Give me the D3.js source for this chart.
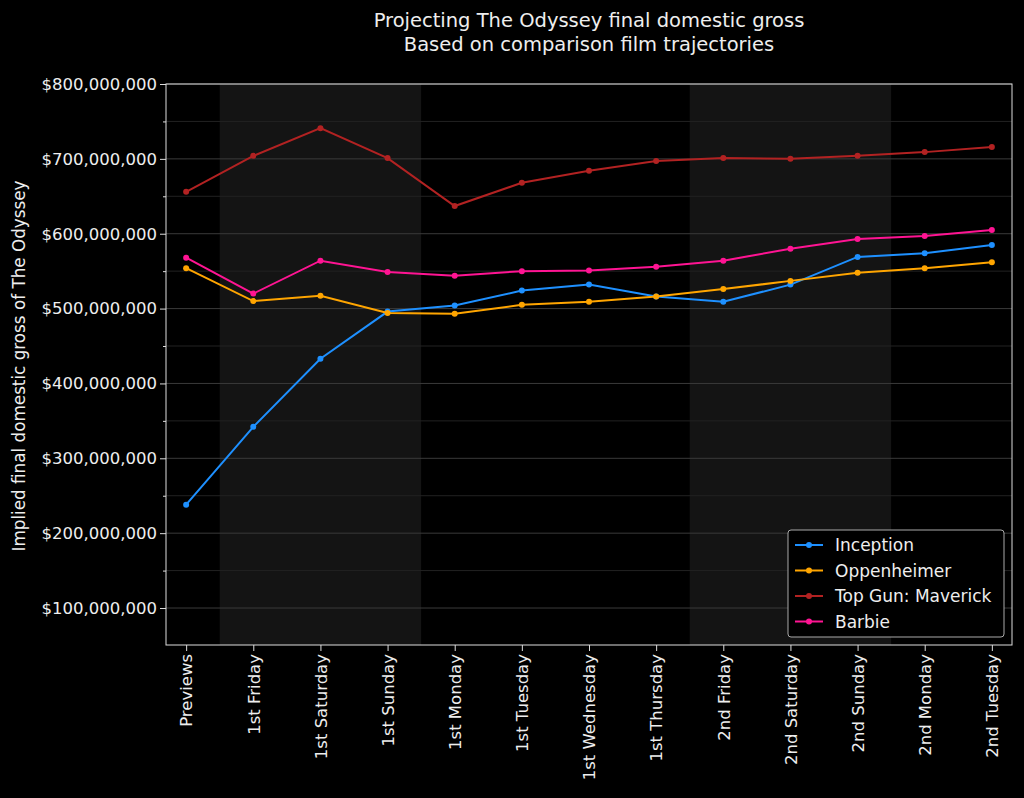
<!DOCTYPE html><html><head><meta charset="utf-8"><script src="https://cdn.jsdelivr.net/npm/d3@7"></script>
<style>body{margin:0;background:#000}svg{font-family:"DejaVu Sans",sans-serif}</style></head><body><svg id="c" width="1024" height="798"></svg><script>
const days=["Previews","1st Friday","1st Saturday","1st Sunday","1st Monday","1st Tuesday","1st Wednesday","1st Thursday","2nd Friday","2nd Saturday","2nd Sunday","2nd Monday","2nd Tuesday"];
const inception=[238,342,433,496,504,524,532,516,509,532,569,574,585];
const oppenheimer=[554,510,517,494,493,505,509,516,526,537,548,554,562];
const topgun=[656,704,741,701,637,668,684,697,701,700,704,709,716];
const barbie=[568,520,564,549,544,550,551,556,564,580,593,597,605];
const yTicks=[100,200,300,400,500,600,700,800];
const series=[["Inception",inception,"#1e90ff"],["Oppenheimer",oppenheimer,"#ffa500"],["Top Gun: Maverick",topgun,"#b22222"],["Barbie",barbie,"#ff1493"]];
const svg=d3.select("#c"),L=166,R=1012,T=84,B=645;
const x=d3.scalePoint().domain(days).range([L,R]).padding(0.3);
const step=x.step();
const y=d3.scaleLinear().domain([50.6,800]).range([B,T]);
svg.append("rect").attr("x",L).attr("y",T).attr("width",R-L).attr("height",B-T).attr("fill","#000");
[[1,3],[8,10]].forEach(([a,b])=>svg.append("rect").attr("x",x(days[a])-step/2).attr("y",T).attr("width",x(days[b])-x(days[a])+step).attr("height",B-T).attr("fill","#141414"));
d3.range(100,801,50).forEach(v=>svg.append("line").attr("x1",L).attr("x2",R).attr("y1",y(v)).attr("y2",y(v)).attr("stroke",v%100?"#222":"#3a3a3a").attr("stroke-width",1));
svg.append("g").attr("transform",`translate(${L},0)`).call(d3.axisLeft(y).tickValues(yTicks).tickFormat(d=>"$"+d3.format(",")(d*1e6)).tickSize(6));
svg.append("g").attr("transform",`translate(${L},0)`).call(d3.axisLeft(y).tickValues(d3.range(150,800,100)).tickFormat("").tickSize(3));
const xa=svg.append("g").attr("transform",`translate(0,${B})`).call(d3.axisBottom(x).tickSize(6));
xa.selectAll("text").attr("transform","rotate(-90)").attr("text-anchor","end").attr("y",0).attr("x",-9).attr("dy","0.35em");
svg.selectAll(".domain").remove();
svg.selectAll(".tick line").attr("stroke","#ddd");
svg.selectAll(".tick text").attr("fill","#eee").attr("font-size",16.5).attr("font-family","DejaVu Sans");
svg.append("rect").attr("x",L).attr("y",T).attr("width",R-L).attr("height",B-T).attr("fill","none").attr("stroke","#ddd");
const line=d3.line().x((d,i)=>x(days[i])).y(d=>y(d));
series.forEach(([n,v,c])=>{svg.append("path").datum(v).attr("d",line).attr("fill","none").attr("stroke",c).attr("stroke-width",2);
svg.selectAll(null).data(v).enter().append("circle").attr("cx",(d,i)=>x(days[i])).attr("cy",d=>y(d)).attr("r",3).attr("fill",c);});
svg.append("text").attr("x",589).attr("y",27).attr("text-anchor","middle").attr("fill","#eee").attr("font-size",19.5).text("Projecting The Odyssey final domestic gross");
svg.append("text").attr("x",589).attr("y",51).attr("text-anchor","middle").attr("fill","#eee").attr("font-size",19.5).text("Based on comparison film trajectories");
svg.append("text").attr("transform","translate(25,366) rotate(-90)").attr("text-anchor","middle").attr("fill","#eee").attr("font-size",16.8).text("Implied final domestic gross of The Odyssey");
const lg=svg.append("g").attr("transform","translate(788,530)");
lg.append("rect").attr("width",216).attr("height",107).attr("rx",3).attr("fill","#000").attr("stroke","#aaa");
series.forEach(([n,v,c],i)=>{const yy=15+i*25.5;lg.append("line").attr("x1",7).attr("x2",35).attr("y1",yy).attr("y2",yy).attr("stroke",c).attr("stroke-width",2);
lg.append("circle").attr("cx",21).attr("cy",yy).attr("r",3).attr("fill",c);
lg.append("text").attr("x",47).attr("y",yy+6).attr("fill","#eee").attr("font-size",17).text(n);});
</script></body></html>
